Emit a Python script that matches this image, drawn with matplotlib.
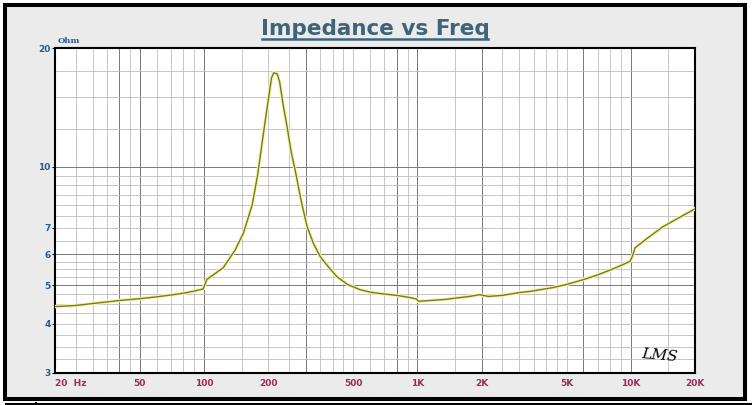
import matplotlib
matplotlib.use("Agg")
import matplotlib.pyplot as plt
from matplotlib.patches import Rectangle
from matplotlib.lines import Line2D
import numpy as np

# ---- data ----
freq_hz = [20, 25, 30, 40, 50, 60, 70, 80, 90, 99, 103, 112, 123, 140, 153, 168, 178, 187,
           197, 207, 212, 220, 226, 235, 245, 256, 267, 285, 304, 325, 350, 385, 420, 470,
           538, 600, 668, 800, 923, 990, 1010, 1146, 1350, 1534, 1750, 1966, 2146, 2500,
           3028, 3373, 4322, 5000, 5972, 7000, 7998, 9000, 9929, 10200, 10472, 12000,
           14170, 17000, 20000]
impedance_ohm = [4.42, 4.45, 4.50, 4.58, 4.63, 4.68, 4.73, 4.78, 4.84, 4.90, 5.18, 5.35, 5.55,
                 6.16, 6.8, 8.0, 9.5, 11.5, 14.0, 16.8, 17.3, 17.2, 16.4, 14.3, 12.6, 10.9,
                 9.82, 8.2, 7.05, 6.4, 5.92, 5.55, 5.26, 5.03, 4.88, 4.81, 4.77, 4.72, 4.66,
                 4.62, 4.56, 4.58, 4.61, 4.65, 4.69, 4.74, 4.69, 4.72, 4.80, 4.83, 4.94, 5.03,
                 5.17, 5.32, 5.47, 5.62, 5.76, 5.95, 6.23, 6.6, 7.05, 7.45, 7.82]

x_tick_values = [20, 50, 100, 200, 500, 1000, 2000, 5000, 10000, 20000]
x_tick_labels = ["20  Hz", "50", "100", "200", "500", "1K", "2K", "5K", "10K", "20K"]
y_tick_values = [3, 4, 5, 6, 7, 10, 20]
y_tick_labels = ["3", "4", "5", "6", "7", "10", "20"]

title_text = "Impedance vs Freq"
unit_text = "Ohm"

W, H = 752, 405
fig = plt.figure(figsize=(W / 100, H / 100), dpi=100)
fig.patch.set_facecolor("white")

def fx(px):
    return px / W

def fy(py):
    return 1 - py / H

# gray panel with black frame
fig.patches.append(Rectangle((fx(5), fy(398.5)), fx(745) - fx(5), fy(5) - fy(398.5),
                             transform=fig.transFigure, facecolor="#ebebeb",
                             edgecolor="black", linewidth=2.9, zorder=-10))
# lower neighbouring box edge
fig.add_artist(Line2D([fx(6), fx(752)], [fy(403.8), fy(403.8)], transform=fig.transFigure,
                      color="black", linewidth=2.2))
fig.add_artist(Line2D([fx(36), fx(36)], [fy(403), fy(405)], transform=fig.transFigure,
                      color="black", linewidth=1.5))

ax = fig.add_axes([fx(55), fy(373), fx(695) - fx(55), fy(48) - fy(373)])
ax.set_facecolor("white")
ax.set_xscale("log")
ax.set_yscale("log")
ax.set_xlim(20, 20000)
ax.set_ylim(3, 20)

# grid
xminor = []
for dec in [10, 100, 1000, 10000]:
    for m in [1, 1.5, 2, 2.5, 3, 3.5, 4, 4.5, 5, 6, 7, 8, 9]:
        v = m * dec
        if 20 <= v <= 20000:
            xminor.append(v)
for v in xminor:
    ax.axvline(v, color="#bdbdbd", linewidth=0.6, zorder=1)
for v in [40, 50, 100, 300, 800, 1000, 2000, 6000, 10000]:
    ax.axvline(v, color="#7a7a7a", linewidth=0.7, zorder=1)
yminor = [3.25, 3.5, 3.75, 4, 4.25, 4.5, 4.75, 5, 5.25, 5.5, 5.75, 6, 6.5, 7, 7.5, 8, 8.5, 9, 9.5,
          10, 12.5, 15, 17.5]
for v in yminor:
    ax.axhline(v, color="#bdbdbd", linewidth=0.6, zorder=1)
for v in [5, 6, 10]:
    ax.axhline(v, color="#7a7a7a", linewidth=0.7, zorder=1)

# curve
ax.plot(freq_hz, impedance_ohm, color="#f5f5b0", linewidth=2.6, zorder=3, solid_joinstyle="round")
ax.plot(freq_hz, impedance_ohm, color="#7a7a1c", linewidth=1.0, zorder=4)

ax.xaxis.set_major_locator(matplotlib.ticker.FixedLocator(x_tick_values))
ax.xaxis.set_major_formatter(matplotlib.ticker.FixedFormatter(x_tick_labels))
ax.xaxis.set_minor_locator(matplotlib.ticker.NullLocator())
ax.yaxis.set_major_locator(matplotlib.ticker.FixedLocator(y_tick_values))
ax.yaxis.set_major_formatter(matplotlib.ticker.FixedFormatter(y_tick_labels))
ax.yaxis.set_minor_locator(matplotlib.ticker.NullLocator())
ax.tick_params(axis="x", length=0, pad=4, labelsize=6.5, labelcolor="#a0285a")
ax.tick_params(axis="y", length=2, pad=1, labelsize=6.5, labelcolor="#2a5a8c", color="black")
for lab in ax.get_xticklabels() + ax.get_yticklabels():
    lab.set_fontweight("bold")
first = ax.get_xticklabels()[0]
first.set_horizontalalignment("left")
for s in ax.spines.values():
    s.set_color("black")
    s.set_linewidth(1.5)

fig.text(fx(58), fy(43), unit_text, fontsize=6, fontweight="bold", color="#2a5a8c",
         ha="left", va="baseline", family="DejaVu Serif")

t = fig.text(fx(375), fy(35), title_text, fontsize=15.5, fontweight="bold", color="#3d6478",
             ha="center", va="baseline")
fig.add_artist(Line2D([fx(262), fx(488)], [fy(38.5), fy(38.5)], transform=fig.transFigure,
                      color="#3d6478", linewidth=1.8))

ax.text(0.945, 0.055, "LMS", transform=ax.transAxes, fontsize=11, fontstyle="italic",
        family="DejaVu Serif", color="black", ha="center", va="center", rotation=-5)

fig.savefig("out.png", dpi=100, facecolor=fig.get_facecolor())
